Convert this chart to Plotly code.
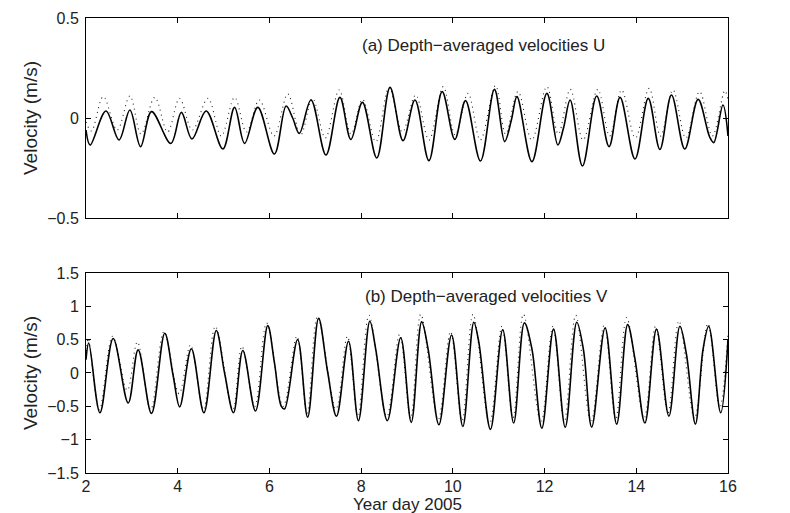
import plotly.graph_objects as go
from plotly.subplots import make_subplots

# ---- (a) U, model (solid) ----
u_day = [2.0, 2.09, 2.435, 2.72, 2.957, 3.19, 3.43, 3.85, 4.08, 4.31, 4.62, 4.985, 5.24,
         5.457, 5.746, 6.109, 6.363, 6.507, 6.652, 6.907, 7.233, 7.537, 7.776, 8.028, 8.341, 8.63,
         8.913, 9.174, 9.478, 9.767, 10.043, 10.276, 10.602, 10.907, 11.13, 11.276, 11.398, 11.724,
         12.05, 12.289, 12.413, 12.558, 12.826, 13.137, 13.406, 13.646, 13.972, 14.261, 14.515,
         14.767, 15.058, 15.348, 15.6, 15.689, 15.89, 16.0]
u_mod = [-0.06, -0.135, 0.035, -0.11, 0.04, -0.143, 0.032, -0.127, 0.028, -0.105, 0.035, -0.155, 0.053,
         -0.127, 0.053, -0.18, 0.06, 0.0, -0.077, 0.09, -0.185, 0.103, -0.107, 0.078, -0.2, 0.153,
         -0.113, 0.09, -0.213, 0.132, -0.107, 0.087, -0.215, 0.143, -0.118, -0.01, 0.107, -0.218,
         0.123, -0.135, -0.05, 0.09, -0.24, 0.11, -0.143, 0.103, -0.205, 0.098, -0.157,
         0.115, -0.155, 0.093, -0.095, -0.123, 0.065, -0.09]

# ---- (a) U, observed (dotted) ----
u_obs_day = [2.0, 2.12, 2.376, 2.68, 2.957, 3.2, 3.5, 3.78, 4.04, 4.32, 4.659, 4.95, 5.24,
             5.5, 5.78, 6.1, 6.4, 6.68, 6.94, 7.22, 7.52, 7.78, 8.03, 8.32, 8.61,
             8.9, 9.19, 9.48, 9.79, 10.05, 10.33, 10.6, 10.93, 11.15, 11.42, 11.72, 12.05,
             12.3, 12.56, 12.84, 13.16, 13.42, 13.68, 13.98, 14.28, 14.53, 14.8, 15.08,
             15.38, 15.66, 15.93, 16.0]
u_obs = [-0.02, -0.065, 0.107, -0.06, 0.11, -0.08, 0.103, -0.07, 0.098, -0.06, 0.098, -0.09, 0.103,
         -0.07, 0.09, -0.09, 0.12, -0.085, 0.098, -0.1, 0.14, -0.08, 0.093, -0.118, 0.153,
         -0.07, 0.115, -0.11, 0.157, -0.085, 0.123, -0.11, 0.162, -0.08, 0.132, -0.11, 0.157,
         -0.08, 0.143, -0.11, 0.143, -0.09, 0.14, -0.1, 0.148, -0.09, 0.14, -0.1,
         0.132, -0.09, 0.137, 0.09]

# ---- (b) V, model (solid) ----
v_day = [2.0, 2.06, 2.304, 2.593, 2.92, 3.137, 3.428, 3.717, 3.898, 4.043, 4.297, 4.572, 4.841,
         5.022, 5.217, 5.42, 5.696, 5.963, 6.109, 6.26, 6.33, 6.615, 6.833, 7.072, 7.267, 7.463,
         7.724, 7.941, 8.189, 8.32, 8.572, 8.863, 9.093, 9.32, 9.463, 9.696, 9.972, 10.217, 10.457,
         10.565, 10.82, 11.087, 11.326, 11.559, 11.724, 11.941, 12.196, 12.45, 12.702, 12.848,
         13.028, 13.32, 13.572, 13.811, 13.972, 14.189, 14.441, 14.711, 14.95, 15.093, 15.289,
         15.457, 15.58, 15.84, 16.0]
v_mod = [0.2, 0.45, -0.596, 0.518, -0.45, 0.347, -0.606, 0.596, -0.03, -0.508, 0.363, -0.596, 0.637,
         0.0, -0.596, 0.337, -0.57, 0.71, 0.155, -0.5, -0.54, 0.503, -0.663, 0.819, 0.026, -0.648,
         0.477, -0.715, 0.777, 0.347, -0.715, 0.528, -0.74, 0.767, 0.347, -0.777, 0.57, -0.803, 0.762,
         0.466, -0.845, 0.648, -0.751, 0.751, 0.363, -0.829, 0.658, -0.813, 0.762, 0.347,
         -0.813, 0.674, -0.767, 0.725, 0.207, -0.751, 0.658, -0.648, 0.7, 0.285, -0.767,
         0.36, 0.7, -0.596, 0.5]

# ---- (b) V, observed (dotted) ----
v_obs_day = [2.0, 2.05, 2.29, 2.58, 2.9, 3.12, 3.41, 3.7, 4.03, 4.28, 4.56, 4.82, 5.2, 5.4,
             5.68, 5.94, 6.3, 6.6, 6.82, 7.05, 7.45, 7.7, 7.93, 8.17, 8.56, 8.84, 9.08, 9.3,
             9.68, 9.95, 10.2, 10.44, 10.8, 11.07, 11.31, 11.54, 11.92, 12.18, 12.43, 12.68,
             13.01, 13.3, 13.55, 13.79, 14.17, 14.42, 14.69, 14.93, 15.27, 15.56, 15.82, 16.0]
v_obs = [0.25, 0.52, -0.55, 0.55, -0.26, 0.466, -0.55, 0.62, -0.31, 0.42, -0.55, 0.7, -0.55, 0.4,
         -0.5, 0.75, -0.5, 0.55, -0.6, 0.85, -0.54, 0.55, -0.65, 0.865, -0.65, 0.58, -0.68, 0.88,
         -0.7, 0.62, -0.72, 0.88, -0.76, 0.7, -0.68, 0.88, -0.74, 0.7, -0.73, 0.865,
         -0.74, 0.72, -0.7, 0.83, -0.68, 0.7, -0.6, 0.78, -0.68, 0.74, -0.52, 0.6]

x_ticks = [2, 4, 6, 8, 10, 12, 14, 16]
u_ticks = [-0.5, 0, 0.5]
v_ticks = [-1.5, -1, -0.5, 0, 0.5, 1, 1.5]

FONT = "Liberation Sans, Arial, sans-serif"
TXT = "#222"

fig = make_subplots(rows=2, cols=1, shared_xaxes=False, vertical_spacing=0.0)

fig.add_trace(go.Scatter(x=u_obs_day, y=u_obs, mode="lines", line_shape="spline",
                         line=dict(color="#222", width=1.1, dash="1px,4px"), showlegend=False), row=1, col=1)
fig.add_trace(go.Scatter(x=u_day, y=u_mod, mode="lines", line_shape="spline",
                         line=dict(color="black", width=1.6), showlegend=False), row=1, col=1)
fig.add_trace(go.Scatter(x=v_obs_day, y=v_obs, mode="lines", line_shape="spline",
                         line=dict(color="#222", width=1.1, dash="1px,4px"), showlegend=False), row=2, col=1)
fig.add_trace(go.Scatter(x=v_day, y=v_mod, mode="lines", line_shape="spline",
                         line=dict(color="black", width=1.6), showlegend=False), row=2, col=1)

axis_common = dict(showline=True, linecolor="black", linewidth=1, mirror="ticks",
                   ticks="inside", ticklen=5, tickcolor="black", showgrid=False, zeroline=False,
                   ticklabelstandoff=3,
                   tickfont=dict(family=FONT, size=16, color=TXT))

fig.update_xaxes(range=[2, 16], tickvals=x_ticks, **axis_common)
fig.update_xaxes(showticklabels=False, row=1, col=1)
fig.update_xaxes(ticktext=[str(v) for v in x_ticks], ticklabelstandoff=-1, row=2, col=1)
fig.update_yaxes(range=[-0.5, 0.5], tickvals=u_ticks, ticktext=["\u22120.5", "0", "0.5"],
                 title=dict(text="Velocity (m/s)", font=dict(family=FONT, size=19, color=TXT), standoff=4),
                 row=1, col=1, **axis_common)
fig.update_yaxes(range=[-1.5, 1.5], tickvals=v_ticks,
                 ticktext=["\u22121.5", "\u22121", "\u22120.5", "0", "0.5", "1", "1.5"],
                 title=dict(text="Velocity (m/s)", font=dict(family=FONT, size=19, color=TXT), standoff=4),
                 row=2, col=1, **axis_common)

fig.update_layout(
    width=790, height=513,
    margin=dict(l=86, r=62, t=18, b=40),
    paper_bgcolor="white", plot_bgcolor="white",
    font=dict(family=FONT, size=16, color=TXT),
    xaxis=dict(domain=[0, 1]), yaxis=dict(domain=[0.5604, 1.0]),
    xaxis2=dict(domain=[0, 1]), yaxis2=dict(domain=[0.0, 0.4396]),
)
fig.update_xaxes(automargin=False)
fig.update_yaxes(automargin=False)

# x-axis title placed as paper annotation
fig.add_annotation(x=0.5, y=-0.0703, xref="paper", yref="paper", text="Year day 2005",
                   showarrow=False, xanchor="center", yanchor="middle", borderpad=0,
                   font=dict(family=FONT, size=17, color=TXT))
fig.add_annotation(x=7.98, y=0.365, xref="x", yref="y", text="(a) Depth\u2212averaged velocities U",
                   showarrow=False, xanchor="left", yanchor="middle",
                   font=dict(family=FONT, size=17, color=TXT))
fig.add_annotation(x=8.03, y=1.14, xref="x2", yref="y2", text="(b) Depth\u2212averaged velocities V",
                   showarrow=False, xanchor="left", yanchor="middle",
                   font=dict(family=FONT, size=17, color=TXT))

# remove the default 8px page margin so the figure fills the window exactly; hide the modebar
fig.write_html("out.html", config={"displayModeBar": False},
               post_script="document.body.style.margin='0';")
